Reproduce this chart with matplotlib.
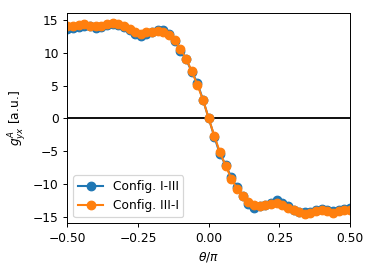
import numpy as np
import matplotlib
matplotlib.use("Agg")
import matplotlib.pyplot as plt

# angle in units of pi, 0.02 steps
theta = np.round(np.arange(-0.5, 0.5001, 0.02), 2)

# Config. I-III
g_13 = [13.6, 13.8, 13.9, 14.1, 14.0, 13.8, 13.9, 14.2, 14.3, 14.2,
        13.9, 13.4, 12.9, 12.5, 12.9, 13.2, 13.4, 13.5, 12.9, 11.8,
        10.3, 9.0, 7.1, 5.4, 2.8, 0.0, -2.8, -5.5, -7.1, -9.0,
        -10.5, -11.8, -13.0, -13.6, -13.4, -13.2, -12.9, -12.5, -12.9, -13.4,
        -13.9, -14.2, -14.3, -14.2, -13.9, -13.8, -14.0, -14.1, -13.9, -13.8,
        -13.6]

# Config. III-I
g_31 = [14.0, 14.0, 14.2, 14.4, 14.1, 14.0, 14.1, 14.3, 14.5, 14.4,
        14.0, 13.6, 13.2, 12.9, 13.1, 13.2, 13.3, 13.2, 12.7, 11.9,
        10.6, 9.1, 7.2, 5.1, 2.8, 0.0, -2.7, -5.2, -7.2, -9.2,
        -10.7, -11.9, -12.8, -13.2, -13.3, -13.2, -13.1, -12.9, -13.2, -13.6,
        -13.9, -14.3, -14.6, -14.4, -14.1, -14.0, -14.1, -14.4, -14.1, -14.0,
        -13.9]

dpi = 88
fig = plt.figure(figsize=(374 / dpi, 272 / dpi), dpi=dpi)
ax = fig.add_axes([0.18, 0.179, 0.756, 0.772])

ax.axhline(0, color='black', lw=1.5)
ax.plot(theta, g_13, marker='o', ms=7, linestyle='-', lw=1.7, label='Config. I-III')
ax.plot(theta, g_31, marker='o', ms=7, linestyle='-', lw=1.7, label='Config. III-I')

ax.set_xlim(-0.5, 0.5)
ax.set_ylim(-16, 16)
ax.set_xticks([-0.5, -0.25, 0, 0.25, 0.5])
ax.set_yticks([-15, -10, -5, 0, 5, 10, 15])
ax.set_xlabel(r'$\theta/\pi$')
ax.set_ylabel(r'$g^{A}_{yx}$ [a.u.]')
ax.legend(loc='lower left')

fig.savefig('out.png', dpi=dpi)
